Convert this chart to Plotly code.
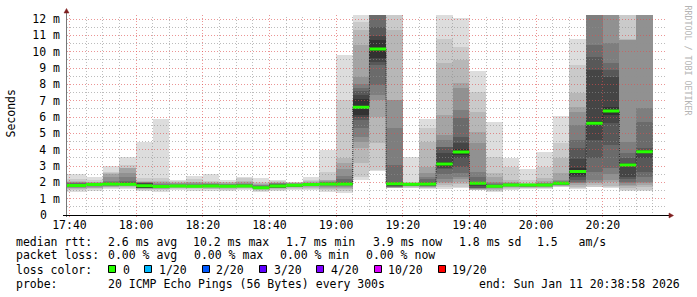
import math
import pandas as pd
import plotly.graph_objects as go

# ---------------- data ----------------
day = "2026-01-11"
window_start = "17:38:58"
window_end = "20:38:58"

bar_times = ["17:40", "17:45", "17:50", "17:55", "18:00", "18:05", "18:10", "18:15",
             "18:20", "18:25", "18:30", "18:35", "18:40", "18:45", "18:50", "18:55",
             "19:00", "19:05", "19:10", "19:15", "19:20", "19:25", "19:30", "19:35",
             "19:40", "19:45", "19:50", "19:55", "20:00", "20:05", "20:10", "20:15",
             "20:20", "20:25", "20:30"]

# median RTT per 5-minute step (ms)
median_ms = [1.80, 1.86, 1.90, 1.88, 1.79, 1.74, 1.78, 1.765, 1.78, 1.765, 1.78, 1.675,
             1.77, 1.82, 1.86, 1.90, 1.90, 6.60, 10.16, 1.92, 1.88, 1.90, 3.12, 3.86,
             1.94, 1.76, 1.84, 1.84, 1.84, 1.94, 2.67, 5.625, 6.37, 3.06, 3.88]

# 20 sorted ping RTTs per step (ms) -> smoke
pings_ms = [
    [1.43, 1.55, 1.60, 1.64, 1.67, 1.70, 1.72, 1.74, 1.76, 1.78, 1.82, 1.86, 1.90, 1.94, 1.97, 2.00, 2.03, 2.08, 2.20, 2.49],
    [1.47, 1.58, 1.64, 1.68, 1.72, 1.75, 1.78, 1.80, 1.82, 1.84, 1.88, 1.90, 1.92, 1.94, 1.96, 1.98, 2.00, 2.05, 2.15, 2.35],
    [1.57, 1.65, 1.70, 1.74, 1.77, 1.80, 1.83, 1.85, 1.87, 1.89, 1.91, 1.94, 1.98, 2.03, 2.10, 2.30, 2.50, 2.55, 2.65, 3.00],
    [1.57, 1.66, 1.71, 1.75, 1.78, 1.81, 1.83, 1.85, 1.86, 1.87, 1.89, 1.95, 2.00, 2.10, 2.30, 2.60, 2.86, 2.90, 3.06, 3.57],
    [1.45, 1.55, 1.60, 1.62, 1.64, 1.65, 1.66, 1.67, 1.675, 1.68, 1.90, 1.93, 1.96, 1.99, 2.01, 2.02, 2.04, 2.10, 2.24, 4.49],
    [1.43, 1.52, 1.58, 1.62, 1.65, 1.67, 1.69, 1.71, 1.72, 1.73, 1.75, 1.78, 1.82, 1.86, 1.90, 1.95, 2.00, 2.10, 2.24, 5.86],
    [1.53, 1.60, 1.64, 1.68, 1.70, 1.72, 1.74, 1.75, 1.76, 1.77, 1.79, 1.81, 1.83, 1.86, 1.90, 1.94, 1.98, 2.02, 2.08, 2.14],
    [1.49, 1.58, 1.63, 1.66, 1.69, 1.71, 1.73, 1.74, 1.75, 1.76, 1.77, 1.79, 1.82, 1.86, 1.90, 1.95, 2.00, 2.05, 2.20, 2.39],
    [1.49, 1.57, 1.62, 1.66, 1.69, 1.71, 1.73, 1.75, 1.76, 1.77, 1.79, 1.81, 1.84, 1.87, 1.90, 1.94, 1.98, 2.02, 2.10, 2.51],
    [1.45, 1.56, 1.62, 1.66, 1.69, 1.71, 1.73, 1.74, 1.75, 1.76, 1.77, 1.79, 1.81, 1.84, 1.87, 1.90, 1.95, 2.00, 2.05, 2.14],
    [1.53, 1.60, 1.64, 1.68, 1.70, 1.72, 1.74, 1.75, 1.76, 1.77, 1.79, 1.81, 1.84, 1.88, 1.92, 1.96, 2.00, 2.10, 2.25, 2.35],
    [1.43, 1.50, 1.55, 1.58, 1.60, 1.62, 1.64, 1.65, 1.66, 1.67, 1.68, 1.70, 1.74, 1.78, 1.82, 1.86, 1.90, 1.96, 2.05, 2.29],
    [1.47, 1.56, 1.60, 1.63, 1.65, 1.66, 1.67, 1.68, 1.69, 1.70, 1.84, 1.86, 1.88, 1.90, 1.93, 1.96, 1.99, 2.02, 2.07, 2.14],
    [1.53, 1.60, 1.65, 1.69, 1.72, 1.75, 1.77, 1.79, 1.80, 1.81, 1.83, 1.85, 1.87, 1.89, 1.91, 1.93, 1.95, 1.98, 2.01, 2.04],
    [1.53, 1.62, 1.68, 1.72, 1.76, 1.79, 1.81, 1.83, 1.84, 1.85, 1.87, 1.89, 1.91, 1.93, 1.96, 1.99, 2.02, 2.07, 2.15, 2.35],
    [1.43, 1.55, 1.62, 1.68, 1.73, 1.78, 1.82, 1.85, 1.87, 1.89, 1.91, 1.94, 1.97, 2.00, 2.04, 2.08, 2.12, 2.14, 2.65, 3.98],
    [1.37, 1.50, 1.60, 1.68, 1.74, 1.78, 1.82, 1.84, 1.86, 1.87, 1.93, 1.98, 2.05, 2.20, 2.40, 2.80, 3.16, 3.47, 7.04, 9.80],
    [2.14, 2.35, 3.16, 4.08, 4.50, 4.80, 5.31, 5.80, 6.00, 6.10, 7.10, 7.35, 7.60, 7.80, 8.00, 8.47, 10.41, 11.33, 11.80, 13.00],
    [2.71, 2.76, 4.39, 6.02, 7.04, 7.35, 7.96, 9.18, 9.39, 9.60, 10.72, 10.95, 11.53, 12.60, 12.80, 13.00, 13.20, 13.40, 13.60, 14.00],
    [1.63, 1.65, 1.66, 1.68, 1.70, 1.71, 1.73, 1.76, 1.80, 1.86, 1.98, 1.99, 2.00, 3.06, 5.31, 7.04, 7.05, 11.33, 12.60, 13.20],
    [1.63, 1.68, 1.72, 1.75, 1.78, 1.80, 1.82, 1.84, 1.85, 1.86, 1.90, 1.92, 1.93, 1.94, 1.95, 1.96, 1.97, 1.98, 2.00, 3.57],
    [1.57, 1.63, 1.67, 1.70, 1.73, 1.76, 1.78, 1.80, 1.82, 1.86, 1.94, 1.98, 2.04, 2.20, 2.35, 2.60, 2.96, 4.49, 5.31, 5.86],
    [1.57, 1.70, 1.84, 1.95, 2.04, 2.20, 2.50, 2.80, 2.86, 3.02, 3.22, 3.80, 4.15, 4.18, 4.60, 4.90, 6.12, 9.29, 10.76, 13.00],
    [1.63, 1.73, 1.90, 2.04, 2.20, 2.35, 2.60, 2.96, 3.47, 3.67, 4.05, 4.40, 4.80, 5.92, 6.43, 7.76, 8.06, 9.49, 10.31, 12.08],
    [1.53, 1.55, 1.56, 1.58, 1.60, 1.63, 1.65, 1.68, 1.75, 1.90, 1.98, 2.00, 2.04, 2.35, 2.65, 4.39, 5.10, 6.33, 7.55, 8.84],
    [1.43, 1.50, 1.55, 1.60, 1.64, 1.67, 1.70, 1.72, 1.74, 1.75, 1.77, 1.80, 1.84, 1.90, 1.97, 2.04, 2.30, 2.55, 3.57, 5.71],
    [1.53, 1.60, 1.65, 1.69, 1.72, 1.75, 1.78, 1.80, 1.82, 1.83, 1.85, 1.87, 1.89, 1.91, 1.93, 1.96, 2.05, 2.14, 2.96, 3.47],
    [1.57, 1.63, 1.68, 1.71, 1.74, 1.77, 1.79, 1.81, 1.82, 1.83, 1.85, 1.86, 1.87, 1.88, 1.89, 1.90, 1.92, 1.94, 2.14, 2.82],
    [1.57, 1.63, 1.68, 1.71, 1.74, 1.77, 1.79, 1.81, 1.82, 1.83, 1.85, 1.87, 1.89, 1.91, 1.94, 1.98, 2.10, 2.24, 2.96, 3.88],
    [1.69, 1.73, 1.76, 1.79, 1.82, 1.85, 1.87, 1.89, 1.91, 1.93, 1.95, 1.97, 1.99, 2.02, 2.06, 2.14, 2.55, 3.47, 4.39, 6.06],
    [1.57, 1.65, 1.73, 1.85, 1.94, 1.98, 2.05, 2.14, 2.35, 2.44, 2.90, 3.40, 4.08, 4.59, 5.50, 6.33, 6.63, 7.45, 9.18, 10.76],
    [1.69, 1.73, 1.85, 1.94, 2.00, 2.14, 2.65, 3.47, 4.59, 5.50, 5.75, 8.88, 9.69, 10.41, 12.50, 12.70, 12.90, 13.10, 13.30, 13.50],
    [1.63, 1.73, 1.80, 2.00, 2.14, 2.50, 2.86, 4.29, 5.61, 6.14, 6.60, 8.47, 8.90, 9.29, 10.55, 12.50, 12.70, 12.90, 13.10, 13.30],
    [1.49, 1.53, 1.65, 1.75, 1.85, 1.95, 2.04, 2.20, 2.35, 3.00, 3.12, 3.16, 3.50, 3.78, 4.49, 10.70, 10.72, 10.76, 12.60, 13.20],
    [1.50, 1.53, 1.73, 1.85, 1.95, 2.04, 2.30, 2.65, 3.47, 3.81, 3.95, 4.00, 4.08, 5.71, 6.53, 12.50, 12.70, 12.90, 13.10, 13.30],
]

y_tick_vals = [0, 1, 2, 3, 4, 5, 6, 7, 8, 9, 10, 11, 12]
y_tick_text = ["0", "1 m", "2 m", "3 m", "4 m", "5 m", "6 m", "7 m", "8 m", "9 m", "10 m", "11 m", "12 m"]

stats_rtt = ["median rtt:", "2.6 ms avg", "10.2 ms max", "1.7 ms min", "3.9 ms now", "1.8 ms sd", "1.5   am/s"]
stats_loss = ["packet loss:", "0.00 % avg", "0.00 % max", "0.00 % min", "0.00 % now"]
loss_labels = ["0", "1/20", "2/20", "3/20", "4/20", "10/20", "19/20"]
loss_colors = ["#26ff00", "#00b8ff", "#0059ff", "#5e00ff", "#7e00ff", "#dd00ff", "#ff0000"]
probe_text = "20 ICMP Echo Pings (56 Bytes) every 300s"
end_text = "end: Sun Jan 11 20:38:58 2026"

# ---------------- styles / layout ----------------
W, H = 697, 297
L, R, T, B = 66, 31, 15, 82
PW, PH = W - L - R, H - T - B
Y_MAX = 12.245
MONO = "DejaVu Sans Mono"
FS = 11.5
smoke_colors = ["#dddddd", "#cacaca", "#b7b7b7", "#a4a4a4", "#919191",
                "#7e7e7e", "#6b6b6b", "#585858", "#454545", "#323232"]
MEDIAN_GREEN = loss_colors[0]
MAJOR_GRID = "rgba(222,79,79,0.6)"
MINOR_GRID = "rgba(143,143,143,0.6)"
ARROW = "#7f1f1f"

t_start = pd.Timestamp(f"{day} {window_start}")
t_end = pd.Timestamp(f"{day} {window_end}")
span = (t_end - t_start).total_seconds()
step = pd.Timedelta(minutes=5)

starts = [pd.Timestamp(f"{day} {s}") for s in bar_times]
lefts = [t_start] + starts[1:]
rights = [s + step for s in starts]
centers = [l + (r - l) / 2 for l, r in zip(lefts, rights)]
widths = [(r - l).total_seconds() * 1000 for l, r in zip(lefts, rights)]


def px2x(px):
    return (px - L) / PW


def py2y(py):
    return 1 - (py - T) / PH


def time_px(t):
    return L + (t - t_start).total_seconds() / span * PW


def val_py(v):
    return T + PH - v * PH / Y_MAX


fig = go.Figure()

# smoke: band k spans ping k .. ping (21-k), inner bands darker
for k in range(10):
    lo = [row[k] for row in pings_ms]
    hi = [row[19 - k] for row in pings_ms]
    fig.add_trace(go.Bar(
        x=centers, width=widths, base=lo, y=[h - l for h, l in zip(hi, lo)],
        marker=dict(color=smoke_colors[k], line=dict(width=0)),
        hoverinfo="skip", showlegend=False))

x_step = lefts + [rights[-1]]
med_step = median_ms + [median_ms[-1]]

# dotted median connector
fig.add_trace(go.Scatter(
    x=x_step, y=med_step, mode="lines",
    line=dict(shape="hv", color="#202020", width=1, dash="1px,1px"),
    hoverinfo="skip", showlegend=False))

# green median band (loss colour 0)
half = 1.5 * Y_MAX / PH
fig.add_trace(go.Scatter(
    x=x_step, y=[m - half for m in med_step], mode="lines",
    line=dict(shape="hv", width=0), hoverinfo="skip", showlegend=False))
fig.add_trace(go.Scatter(
    x=x_step, y=[m + half for m in med_step], mode="lines",
    line=dict(shape="hv", width=0), fill="tonexty", fillcolor=MEDIAN_GREEN,
    hoverinfo="skip", showlegend=False))

shapes = []
# horizontal grid (drawn on top, like rrdtool)
for i in range(1, 25):
    v = i * 0.5
    row = math.floor(val_py(v) + 1e-6) + 0.5
    major = (i % 2 == 0)
    shapes.append(dict(type="line", xref="paper", yref="paper",
                       x0=px2x(L + 1), x1=px2x(L + PW), y0=py2y(row), y1=py2y(row),
                       line=dict(color=MAJOR_GRID if major else MINOR_GRID, width=1, dash="1px,2px"),
                       layer="above"))
# vertical grid
g = pd.Timestamp(f"{day} 17:40")
while g < t_end:
    col = math.floor(time_px(g)) + 0.5
    major = (g.minute % 20 == 0)
    shapes.append(dict(type="line", xref="paper", yref="paper",
                       x0=px2x(col), x1=px2x(col), y0=py2y(T + PH + (2 if major else 1)), y1=py2y(T),
                       line=dict(color=MAJOR_GRID if major else MINOR_GRID, width=1, dash="1px,2px"),
                       layer="above"))
    g += step

# axes and arrows
shapes.append(dict(type="line", xref="paper", yref="paper",
                   x0=px2x(L + 0.5), x1=px2x(L + 0.5), y0=py2y(T + PH + 2), y1=py2y(T - 2),
                   line=dict(color="#777777", width=1), layer="above"))
shapes.append(dict(type="line", xref="paper", yref="paper",
                   x0=px2x(L - 3), x1=px2x(L + PW + 3), y0=py2y(T + PH + 0.5), y1=py2y(T + PH + 0.5),
                   line=dict(color="#000000", width=1), layer="above"))
ax, ay = L + 0.5, T - 6.5
shapes.append(dict(type="path", xref="paper", yref="paper", layer="above",
                   path=f"M {px2x(ax)} {py2y(ay)} L {px2x(ax - 2.5)} {py2y(ay + 4.5)} L {px2x(ax + 2.5)} {py2y(ay + 4.5)} Z",
                   fillcolor=ARROW, line=dict(color=ARROW, width=0.5)))
bx, by = L + PW + 7.5, T + PH + 0.5
shapes.append(dict(type="path", xref="paper", yref="paper", layer="above",
                   path=f"M {px2x(bx)} {py2y(by)} L {px2x(bx - 4.5)} {py2y(by - 2.5)} L {px2x(bx - 4.5)} {py2y(by + 2.5)} Z",
                   fillcolor=ARROW, line=dict(color=ARROW, width=0.5)))

annotations = []


def text(px, py, s, size=FS, color="#000000", anchor="left", angle=0):
    annotations.append(dict(xref="paper", yref="paper", x=px2x(px), y=py2y(py), text=s,
                            showarrow=False, xanchor=anchor, yanchor="middle", textangle=angle,
                            borderpad=0, font=dict(family=MONO, size=size, color=color)))


# the "0" tick label sits two character cells further left (it has no unit prefix)
text(48.0, val_py(y_tick_vals[0]), y_tick_text[0], anchor="right")

rtt_x = [15.2, 106.5, 192.0, 285.2, 371.5, 457.5, 536.0]
for s, x in zip(stats_rtt, rtt_x):
    text(x, 241.5, s)
loss_x = [15.2, 106.5, 192.5, 278.5, 364.5]
for s, x in zip(stats_loss, loss_x):
    text(x, 255.3, s)
text(15.2, 269.5, "loss color:")
sx = 108.0
for lab, colr in zip(loss_labels, loss_colors):
    x0 = round(sx)
    shapes.append(dict(type="rect", xref="paper", yref="paper",
                       x0=px2x(x0 + 0.5), x1=px2x(x0 + 7.5), y0=py2y(265.5), y1=py2y(272.5),
                       fillcolor=colr, line=dict(color="#000000", width=1), layer="above"))
    tx = sx + 13.6
    text(tx, 269.5, lab)
    sx = tx + 7.0 * len(lab) + 15.7
text(15.2, 283.5, "probe:")
text(106.5, 283.5, probe_text)
text(681.0, 283.5, end_text, anchor="right")

# axis title and watermark
annotations.append(dict(xref="paper", yref="paper", x=px2x(11), y=py2y(113.5), text="Seconds",
                        showarrow=False, xanchor="center", yanchor="middle", textangle=-90,
                        font=dict(family=MONO, size=FS, color="#000000")))
annotations.append(dict(xref="paper", yref="paper", x=px2x(687.5), y=py2y(60), text="RRDTOOL / TOBI OETIKER",
                        showarrow=False, xanchor="center", yanchor="middle", textangle=90,
                        font=dict(family=MONO, size=8.3, color="#b4b4b4")))

fig.update_layout(
    width=W, height=H,
    margin=dict(l=L, r=R, t=T, b=B, pad=0),
    paper_bgcolor="#ffffff", plot_bgcolor="#ffffff",
    barmode="overlay", bargap=0,
    showlegend=False,
    shapes=shapes, annotations=annotations,
    xaxis=dict(type="date", range=[t_start, t_end], tick0=f"{day} 17:40", dtick=20 * 60 * 1000,
               tickformat="%H:%M", showgrid=False, zeroline=False, showline=False, ticks="",
               tickfont=dict(family=MONO, size=FS, color="#000000"), ticklabelstandoff=1,
               fixedrange=True),
    yaxis=dict(range=[0, Y_MAX], tickvals=y_tick_vals[1:], ticktext=y_tick_text[1:],
               showgrid=False, zeroline=False, showline=False, ticks="",
               tickfont=dict(family=MONO, size=FS, color="#000000"), ticklabelstandoff=5,
               fixedrange=True),
)

fig.write_html("out.html", config={"displayModeBar": False},
               post_script="document.body.style.margin='0';document.body.style.padding='0';")
